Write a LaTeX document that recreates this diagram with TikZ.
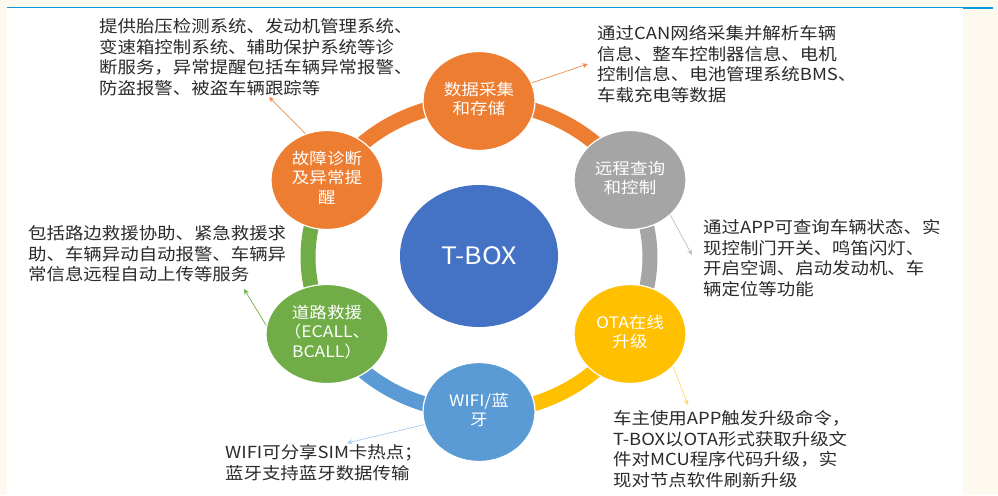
\documentclass[tikz,border=0pt]{standalone}
\usepackage{graphicx}
\usepackage{fontspec}
\setmainfont{Noto Sans CJK SC}
\usetikzlibrary{shapes.geometric,arrows.meta}
\definecolor{cream}{HTML}{FEF9EF}
\definecolor{lineblue}{HTML}{0E9BDB}
\definecolor{corange}{HTML}{ED7D31}
\definecolor{cgray}{HTML}{A5A5A5}
\definecolor{cyellow}{HTML}{FFC000}
\definecolor{cblue}{HTML}{5B9BD5}
\definecolor{cgreen}{HTML}{70AD47}
\definecolor{tblue}{HTML}{4472C4}
\definecolor{textgray}{HTML}{2B2B2B}
\definecolor{aorange}{HTML}{F08A4B}
\definecolor{agray}{HTML}{BFBFBF}
\definecolor{ayellow}{HTML}{FFD966}
\definecolor{ablue}{HTML}{A9CBEA}
\newcommand\hstretchl[1]{\scalebox{1.11}[1]{\begin{tabular}{@{}l@{}}#1\end{tabular}}}
\newcommand\hstretchc[1]{\scalebox{1.11}[1]{\begin{tabular}{@{}c@{}}#1\end{tabular}}}
\begin{document}
\begin{tikzpicture}[x=1pt,y=-1pt,
  desc/.style={anchor=north west, inner sep=0pt, text=textgray, font=\fontsize{16.6}{20.7}\selectfont},
  hub/.style={ellipse, draw=white, line width=1.2pt, minimum width=112pt, minimum height=99pt, inner sep=0pt, text=white, font=\fontsize{15.8}{19.5}\selectfont},
  ringseg/.style={line width=15pt},
  callout/.style={line width=0.7pt, -{Stealth[length=5.5pt,width=5pt]}}]
\useasboundingbox (0,0) rectangle (998,495);
\fill[cream] (0,0) rectangle (998,495);
\fill[white] (7,8) rectangle (963,495);
\draw[lineblue, line width=1.3pt] (7,7.3) -- (963,7.3);
\draw[lineblue, line width=2pt] (963,7.6) -- (993,7.6);

% ring
\draw[ringseg, corange] plot[domain=205:335, samples=80] ({479+171*cos(\x)},{257+155*sin(\x)});
\draw[ringseg, cgray] plot[domain=-35:35, samples=40] ({479+171*cos(\x)},{257+155*sin(\x)});
\draw[ringseg, cyellow] plot[domain=25:95, samples=40] ({479+171*cos(\x)},{257+155*sin(\x)});
\draw[ringseg, cblue] plot[domain=85:155, samples=40] ({479+171*cos(\x)},{257+155*sin(\x)});
\draw[ringseg, cgreen] plot[domain=145:215, samples=40] ({479+171*cos(\x)},{257+155*sin(\x)});

% centre
\node[ellipse, fill=tblue, minimum width=158pt, minimum height=142pt, inner sep=0pt, text=white, font=\fontsize{24}{28}\selectfont] (tbox) at (479,256) {\scalebox{1.11}[1]{T-BOX}};

% hubs
\node[hub, fill=corange] (sj) at (479,101) {\hstretchc{数据采集\\和存储}};
\node[hub, fill=cgray] (yc) at (630,180) {\hstretchc{远程查询\\和控制}};
\node[hub, fill=cyellow] (ota) at (630,334) {\hstretchc{OTA在线\\升级}};
\node[hub, fill=cblue] (wifi) at (479,412) {\hstretchc{WIFI/蓝\\牙}};
\node[hub, fill=cgreen] (dl) at (327,334) {\hstretchc{道路救援\\（ECALL、\\BCALL）}};
\node[hub, fill=corange] (gz) at (327,180) {\hstretchc{故障诊断\\及异常提\\醒}};

% descriptions
\node[desc] (d1) at (99,17.8) {\hstretchl{提供胎压检测系统、发动机管理系统、\\变速箱控制系统、辅助保护系统等诊\\断服务，异常提醒包括车辆异常报警、\\防盗报警、被盗车辆跟踪等}};
\node[desc] (d2) at (597,24.8) {\hstretchl{通过CAN网络采集并解析车辆\\信息、整车控制器信息、电机\\控制信息、电池管理系统BMS、\\车载充电等数据}};
\node[desc] (d3) at (703,218.8) {\hstretchl{通过APP可查询车辆状态、实\\现控制门开关、鸣笛闪灯、\\开启空调、启动发动机、车\\辆定位等功能}};
\node[desc] (d4) at (28,224.8) {\hstretchl{包括路边救援协助、紧急救援求\\助、车辆异动自动报警、车辆异\\常信息远程自动上传等服务}};
\node[desc] (d5) at (225,443.8) {\hstretchl{WIFI可分享SIM卡热点；\\蓝牙支持蓝牙数据传输}};
\node[desc] (d6) at (613,409.8) {\hstretchl{车主使用APP触发升级命令，\\T-BOX以OTA形式获取升级文\\件对MCU程序代码升级，实\\现对节点软件刷新升级}};

% callouts
\coordinate (t1) at (269,97);
\coordinate (t2) at (588,64);
\coordinate (t3) at (692,255);
\coordinate (t4) at (688,405);
\coordinate (t5) at (347,443);
\coordinate (t6) at (244,289);
\draw[callout, aorange] (gz.115) -- (t1);
\draw[callout, aorange] (sj.19) -- (t2);
\draw[callout, agray] (yc.-41) -- (t3);
\draw[callout, ayellow] (ota.-37) -- (t4);
\draw[callout, ablue] (wifi.193) -- (t5);
\draw[callout, cgreen] (dl.172) -- (t6);
\end{tikzpicture}
\end{document}
